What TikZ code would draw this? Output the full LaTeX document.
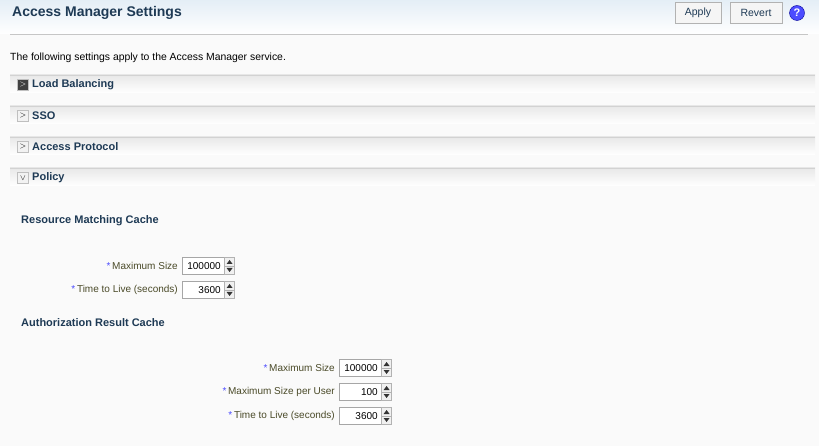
\documentclass[tikz,border=0pt]{standalone}
\usepackage{fontspec}
\setmainfont{Liberation Sans}
\begin{document}
\begin{tikzpicture}[x=1pt,y=-1pt,
  lbl/.style={anchor=east,font=\fontsize{10}{12}\selectfont,text=lblc,inner sep=0},
  hdr/.style={anchor=west,font=\bfseries\fontsize{11}{13}\selectfont,text=hdrc,inner sep=0},
  fld/.style={draw=gray!70,fill=white,minimum width=42,minimum height=17,anchor=west,inner xsep=3,inner ysep=1.5,text width=35,align=right,font=\fontsize{10}{12}\selectfont},
  spin/.style={draw=gray!60,fill=gray!12,minimum width=10,minimum height=17,inner sep=0,anchor=west},
  btn/.style={draw=gray!60,fill=gray!8,minimum height=21,inner sep=0,font=\fontsize{10.5}{12}\selectfont,text=hdrc},
  exp/.style={draw=gray!50,fill=gray!10,minimum size=11,inner sep=0,font=\fontsize{8}{8}\selectfont}]
\definecolor{lblc}{HTML}{4A4A28}
\definecolor{hdrc}{HTML}{1E3A55}
\definecolor{barc}{HTML}{E4EEF6}
\useasboundingbox (0,0) rectangle (819,446);
\fill[gray!4] (0,0) rectangle (819,446);
\shade[top color=barc,bottom color=white] (0,0) rectangle (819,34);
\draw[gray!45] (10,34) -- (808,34);
\node[anchor=west,font=\bfseries\fontsize{14}{16}\selectfont,text=hdrc,inner sep=0] (title) at (12,13) {Access Manager Settings};
\node[btn,minimum width=46] (apply) at (698,13) {Apply};
\node[btn,minimum width=52] (revert) at (756,13) {Revert};
\node[circle,draw=blue!60!black,fill=blue!70,minimum size=15,inner sep=0,text=white,font=\bfseries\fontsize{11}{11}\selectfont] (help) at (797,13) {?};
\node[anchor=west,font=\fontsize{10.4}{12}\selectfont,inner sep=0] (intro) at (10,58) {The following settings apply to the Access Manager service.};
\foreach \y/\t [count=\k] in {85/Load Balancing,116/SSO,147/Access Protocol,178/Policy}{
  \shade[top color=gray!18,bottom color=white] (10,\y-10) rectangle (815,\y+8);
  \draw[gray!35] (10,\y-10) -- (815,\y-10);
  \node[hdr] (s\k) at (32,\y) {\t};
}
\node[exp,fill=black!75,text=white] (e1) at (23,85) {$>$};
\node[exp] (e2) at (23,116) {$>$};
\node[exp] (e3) at (23,147) {$>$};
\node[exp] (e4) at (23,178) {$\vee$};
\node[hdr] (rmc) at (21,221) {Resource Matching Cache};
\node[hdr] (arc) at (21,323) {Authorization Result Cache};
\foreach \x/\y/\t/\v [count=\k] in {178/266/Maximum Size/100000,178/290/Time to Live (seconds)/3600,335/368/Maximum Size/100000,335/392/Maximum Size per User/100,335/416/Time to Live (seconds)/3600}{
  \node[lbl] (l\k) at (\x,\y) {\textcolor{blue!70}{*}\,\t};
  \node[fld] (f\k) at (\x+4,\y) {\v};
  \node[spin] (sp\k) at (f\k.east) {};
  \fill[black!80] ([yshift=6]sp\k.center) -- ++(-3,4) -- ++(6,0) -- cycle;
  \fill[black!80] ([yshift=-6]sp\k.center) -- ++(-3,-4) -- ++(6,0) -- cycle;
  \draw[gray!60] (sp\k.west) -- (sp\k.east);
}
\end{tikzpicture}
\end{document}
